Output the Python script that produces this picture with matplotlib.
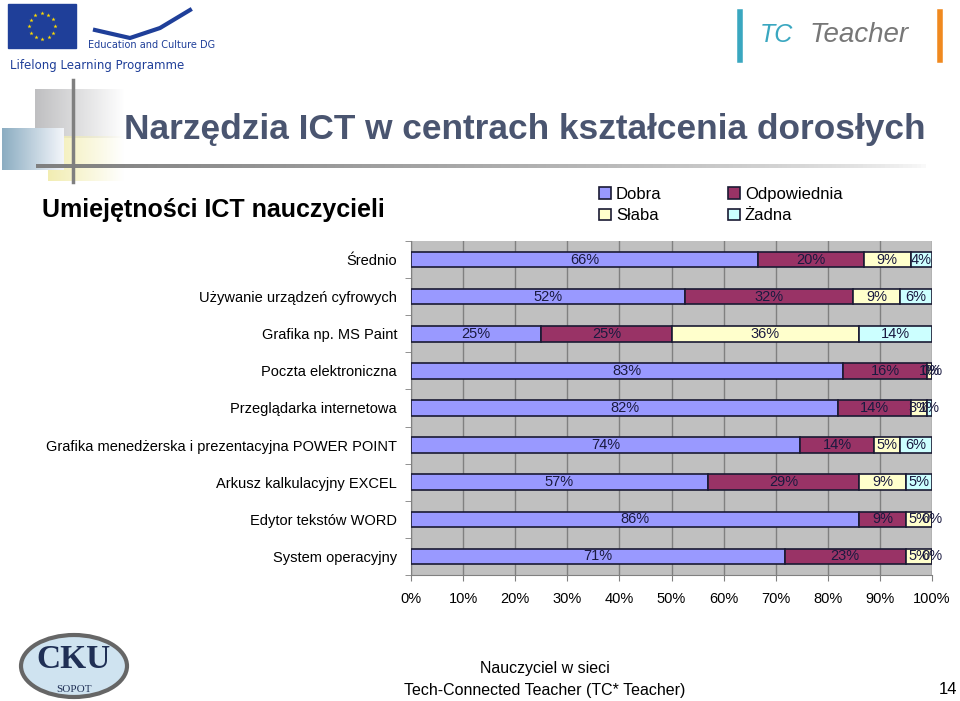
import numpy as np
import matplotlib
matplotlib.use("Agg")
import matplotlib.pyplot as plt
from matplotlib.patches import Rectangle, Ellipse

plt.rcParams['font.family'] = ['Liberation Sans', 'DejaVu Sans']

# data (percent)
categories = [
    "Średnio",
    "Używanie urządzeń cyfrowych",
    "Grafika np. MS Paint",
    "Poczta elektroniczna",
    "Przeglądarka internetowa",
    "Grafika menedżerska i prezentacyjna POWER POINT",
    "Arkusz kalkulacyjny EXCEL",
    "Edytor tekstów WORD",
    "System operacyjny",
]
series_names = ["Dobra", "Odpowiednia", "Słaba", "Żadna"]
dobra = [66, 52, 25, 83, 82, 74, 57, 86, 71]
odpowiednia = [20, 32, 25, 16, 14, 14, 29, 9, 23]
slaba = [9, 9, 36, 1, 3, 5, 9, 5, 5]
zadna = [4, 6, 14, 0, 1, 6, 5, 0, 0]
x_ticks = [0, 10, 20, 30, 40, 50, 60, 70, 80, 90, 100]

colors = ["#9999ff", "#993366", "#ffffcc", "#ccffff"]

W, H = 960, 701
fig = plt.figure(figsize=(W / 100, H / 100), dpi=100)

# background layer in pixel coordinates for slide decorations
bg = fig.add_axes([0, 0, 1, 1])
bg.set_xlim(0, W)
bg.set_ylim(H, 0)
bg.axis('off')


def fade_rect(x0, x1, y0, y1, rgb, alpha0=1.0, alpha1=0.0):
    grad = np.zeros((2, 64, 4))
    grad[..., :3] = rgb
    grad[..., 3] = np.linspace(alpha0, alpha1, 64)
    bg.imshow(grad, extent=(x0, x1, y1, y0), aspect='auto', zorder=1,
              interpolation='bilinear')


# decorative squares and lines near the title
fade_rect(35, 125, 89, 138, (0.75, 0.75, 0.76), 1.0, 0.0)
fade_rect(48, 125, 136, 181, (0.95, 0.93, 0.70), 1.0, 0.0)
grad = np.zeros((32, 32, 4))
gx = np.linspace(0, 1, 32)
for i in range(32):
    grad[i, :, 0] = 0.55 + 0.4 * gx
    grad[i, :, 1] = 0.68 + 0.28 * gx
    grad[i, :, 2] = 0.76 + 0.22 * gx
grad[..., 3] = 1.0
bg.imshow(grad, extent=(2, 64, 170, 128), aspect='auto', zorder=2)
bg.plot([73, 73], [80, 182], color="#7f7f7f", lw=2.5, zorder=3)
line = np.zeros((1, 200, 4))
line[..., :3] = 0.5
line[..., 3] = np.linspace(1, 0, 200) ** 0.6
bg.imshow(line, extent=(36, 930, 168, 164), aspect='auto', zorder=3)
bg.set_xlim(0, W)
bg.set_ylim(H, 0)

# EU flag and logos (simplified)
bg.add_patch(Rectangle((8, 4), 68, 44, color="#1f3f99", zorder=2))
ang = np.linspace(0, 2 * np.pi, 13)[:-1]
bg.scatter(42 + 13 * np.cos(ang), 26 + 13 * np.sin(ang), marker='*', s=10,
           color="#ffdd00", zorder=3, linewidths=0)
bg.plot([95, 130, 160, 190], [30, 38, 28, 10], color="#1f3f99", lw=3, zorder=2)
bg.text(88, 45, "Education and Culture DG", fontsize=7, color="#1f3f99",
        va='center', family='Liberation Sans Narrow')
bg.text(10, 66, "Lifelong Learning Programme", fontsize=8.5, color="#1f3f99",
        va='center', family='Liberation Sans Narrow')
bg.text(760, 35, "TC", fontsize=18, color="#3aa7c0", va='center',
        style='italic')
bg.text(810, 35, "Teacher", fontsize=20, color="#777777", va='center',
        style='italic')
bg.plot([740, 740], [12, 60], color="#3aa7c0", lw=4)
bg.plot([940, 940], [12, 60], color="#f0891f", lw=4)

bg.add_patch(Ellipse((74, 666), 106, 62, facecolor="#cfe3f0",
                     edgecolor="#666666", lw=3, zorder=2))
bg.text(74, 660, "CKU", fontsize=24, family='Liberation Serif',
        fontweight='bold', color="#1f2f55", ha='center', va='center', zorder=3)
bg.text(74, 690, "SOPOT", fontsize=8, family='Liberation Serif',
        color="#1f2f55", ha='center', va='center', zorder=3)

# titles
bg.text(124, 130, "Narzędzia ICT w centrach kształcenia dorosłych",
        fontsize=25.4, fontweight='bold', color="#4a5570", va='center',
        zorder=4)
bg.text(42, 210, "Umiejętności ICT nauczycieli", fontsize=18,
        fontweight='bold', color="black", va='center')

# footer
bg.text(545, 669, "Nauczyciel w sieci", fontsize=11.5, ha='center',
        va='center')
bg.text(545, 690, "Tech-Connected Teacher (TC* Teacher)", fontsize=11.5,
        ha='center', va='center')
bg.text(948, 690, "14", fontsize=12, ha='center', va='center')

# chart
ax = fig.add_axes([411 / W, 1 - 575 / H, (932 - 411) / W, (575 - 241) / H])
ax.set_facecolor("#c0c0c0")

data = np.array([dobra, odpowiednia, slaba, zadna], dtype=float)
totals = data.sum(axis=0)
shares = data / totals * 100
ypos = np.arange(len(categories))
left = np.zeros(len(categories))
handles = []
for k, name in enumerate(series_names):
    bars = ax.barh(ypos, shares[k], left=left, height=0.42, color=colors[k],
                   edgecolor="#1a1a33", linewidth=1.2, label=name, zorder=3)
    ax.bar_label(bars, labels=[f"{int(v)}%" for v in data[k]],
                 label_type='center', fontsize=10.5, color="#1a1a40")
    left += shares[k]
    handles.append(bars)

ax.set_xlim(0, 100)
ax.set_ylim(len(categories) - 0.5, -0.5)
ax.set_xticks(x_ticks)
ax.set_xticklabels([f"{t}%" for t in x_ticks], fontsize=10.5)
ax.set_yticks(ypos)
ax.set_yticklabels(categories, fontsize=10.5)
ax.tick_params(axis='y', length=0, pad=10)
ax.set_yticks(np.arange(len(categories) + 1) - 0.5, minor=True)
ax.tick_params(axis='y', which='minor', length=4, color="#808080")
ax.tick_params(axis='x', length=4, color="#808080", pad=8)
ax.grid(axis='x', color="#808080", lw=1, zorder=0)
ax.set_axisbelow(True)
for s in ['top', 'right']:
    ax.spines[s].set_visible(False)
for s in ['left', 'bottom']:
    ax.spines[s].set_color("#808080")

order = [0, 2, 1, 3]
fig.legend([handles[i] for i in order], [series_names[i] for i in order],
           ncol=2, loc='center', bbox_to_anchor=(721 / W, 1 - 205 / H),
           frameon=False, fontsize=12, handlelength=0.7, handleheight=0.7,
           handletextpad=0.3, columnspacing=4.0, labelspacing=0.4)

fig.savefig("out.png", dpi=100)
